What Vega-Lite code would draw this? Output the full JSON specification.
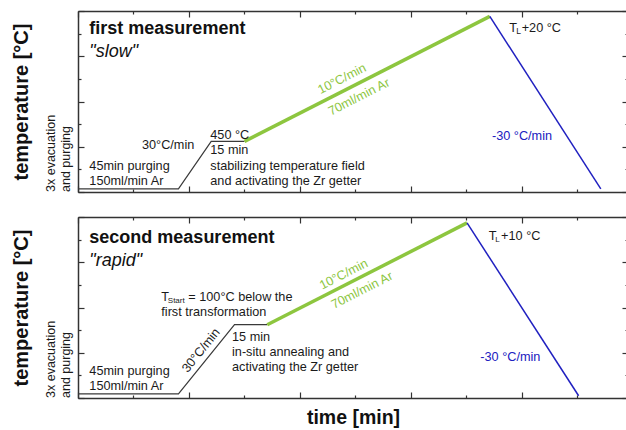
{
  "$schema": "https://vega.github.io/schema/vega-lite/v6.json",
  "padding": {"left": 11, "top": 9, "right": 0, "bottom": 0},
  "background": "white",
  "config": {
    "font": "Liberation Sans",
    "view": {"stroke": null},
    "axis": {"domainColor": "#333", "domainWidth": 1.5, "tickColor": "#333", "tickWidth": 1.2, "grid": false, "labels": false, "titleFont": "Liberation Sans", "titleFontSize": 20, "titleFontWeight": "bold", "titleColor": "#111"},
    "text": {"font": "Liberation Sans", "color": "#1a1a1a", "align": "left", "baseline": "alphabetic", "fontSize": 12.7}
  },
  "spacing": 22,
  "datasets": {
    "lines": [
      {"panel": "top", "seg": "black", "t": 0, "T": 0.07},
      {"panel": "top", "seg": "black", "t": 1.81, "T": 0.07},
      {"panel": "top", "seg": "black", "t": 2.40, "T": 1.12},
      {"panel": "top", "seg": "black", "t": 3.0, "T": 1.12},
      {"panel": "top", "seg": "green", "t": 3.0, "T": 1.12},
      {"panel": "top", "seg": "green", "t": 7.42, "T": 3.88},
      {"panel": "top", "seg": "blue", "t": 7.42, "T": 3.88},
      {"panel": "top", "seg": "blue", "t": 9.42, "T": 0.07},
      {"panel": "bottom", "seg": "black", "t": 0, "T": 0.09},
      {"panel": "bottom", "seg": "black", "t": 1.81, "T": 0.09},
      {"panel": "bottom", "seg": "black", "t": 2.82, "T": 1.62},
      {"panel": "bottom", "seg": "black", "t": 3.41, "T": 1.62},
      {"panel": "bottom", "seg": "green", "t": 3.41, "T": 1.62},
      {"panel": "bottom", "seg": "green", "t": 7.01, "T": 3.87},
      {"panel": "bottom", "seg": "blue", "t": 7.01, "T": 3.87},
      {"panel": "bottom", "seg": "blue", "t": 9.02, "T": 0.05}
    ],
    "texts": [
      {"panel": "top", "kind": "title", "x": 0.204, "y": 3.50, "label": "first measurement"},
      {"panel": "top", "kind": "italic", "x": 0.204, "y": 2.99, "label": "\"slow\""},
      {"panel": "top", "kind": "normal", "x": 1.153, "y": 0.958, "label": "30°C/min"},
      {"panel": "top", "kind": "normal", "x": 2.384, "y": 1.179, "label": "450 °C"},
      {"panel": "top", "kind": "normal", "x": 2.384, "y": 0.834, "label": "15 min"},
      {"panel": "top", "kind": "normal", "x": 2.384, "y": 0.493, "label": "stabilizing temperature field"},
      {"panel": "top", "kind": "normal", "x": 2.384, "y": 0.162, "label": "and activating the Zr getter"},
      {"panel": "top", "kind": "normal", "x": 0.204, "y": 0.493, "label": "45min purging"},
      {"panel": "top", "kind": "normal", "x": 0.204, "y": 0.162, "label": "150ml/min Ar"},
      {"panel": "top", "kind": "green", "x": 4.757, "y": 2.50, "label": "10°C/min"},
      {"panel": "top", "kind": "green", "x": 5.063, "y": 2.10, "label": "70ml/min Ar"},
      {"panel": "top", "kind": "T", "x": 7.771, "y": 3.54, "label": "T"},
      {"panel": "top", "kind": "sub", "x": 7.771, "y": 3.54, "label": "L"},
      {"panel": "top", "kind": "restL", "x": 7.771, "y": 3.54, "label": "+20 °C"},
      {"panel": "top", "kind": "blue", "x": 7.459, "y": 1.144, "label": "-30 °C/min"},
      {"panel": "top", "kind": "side", "x": -0.414, "y": 0, "label": "3x evacuation"},
      {"panel": "top", "kind": "side", "x": -0.146, "y": 0, "label": "and purging"},
      {"panel": "bottom", "kind": "title", "x": 0.204, "y": 3.425, "label": "second measurement"},
      {"panel": "bottom", "kind": "italic", "x": 0.204, "y": 2.91, "label": "\"rapid\""},
      {"panel": "bottom", "kind": "T", "x": 1.501, "y": 2.152, "label": "T"},
      {"panel": "bottom", "kind": "sub", "x": 1.501, "y": 2.152, "label": "Start"},
      {"panel": "bottom", "kind": "restS", "x": 1.501, "y": 2.152, "label": "= 100°C below the"},
      {"panel": "bottom", "kind": "normal", "x": 1.501, "y": 1.821, "label": "first transformation"},
      {"panel": "bottom", "kind": "rot", "x": 2.216, "y": 1.054, "label": "30°C/min"},
      {"panel": "bottom", "kind": "normal", "x": 2.775, "y": 1.253, "label": "15 min"},
      {"panel": "bottom", "kind": "normal", "x": 2.775, "y": 0.922, "label": "in-situ annealing and"},
      {"panel": "bottom", "kind": "normal", "x": 2.775, "y": 0.59, "label": "activating the Zr getter"},
      {"panel": "bottom", "kind": "normal", "x": 0.204, "y": 0.517, "label": "45min purging"},
      {"panel": "bottom", "kind": "normal", "x": 0.204, "y": 0.186, "label": "150ml/min Ar"},
      {"panel": "bottom", "kind": "green", "x": 4.787, "y": 2.734, "label": "10°C/min"},
      {"panel": "bottom", "kind": "green", "x": 5.117, "y": 2.38, "label": "70ml/min Ar"},
      {"panel": "bottom", "kind": "T", "x": 7.40, "y": 3.50, "label": "T"},
      {"panel": "bottom", "kind": "sub", "x": 7.40, "y": 3.50, "label": "L"},
      {"panel": "bottom", "kind": "restL", "x": 7.40, "y": 3.50, "label": "+10 °C"},
      {"panel": "bottom", "kind": "blue", "x": 7.249, "y": 0.811, "label": "-30 °C/min"},
      {"panel": "bottom", "kind": "side", "x": -0.414, "y": 0, "label": "3x evacuation"},
      {"panel": "bottom", "kind": "side", "x": -0.146, "y": 0, "label": "and purging"}
    ]
  },
  "vconcat": [
    {
      "width": 550, "height": 181,
      "resolve": {"axis": {"x": "independent", "y": "independent"}},
      "layer": [
        {"data": {"name": "lines"}, "transform": [{"filter": "datum.panel === 'top' && datum.seg === 'black'"}],
         "mark": {"type": "line", "color": "#3a3a3a", "strokeWidth": 1.2},
         "encoding": {
           "x": {"field": "t", "type": "quantitative", "scale": {"domain": [0, 9.91], "nice": false, "zero": false}, "axis": {"orient": "bottom", "values": [0, 2, 4, 6, 8], "tickSize": -6, "title": null}},
           "y": {"field": "T", "type": "quantitative", "scale": {"domain": [0, 4], "nice": false}, "axis": {"orient": "left", "values": [0, 1, 2, 3, 4], "tickSize": -6, "title": "temperature [°C]", "titlePadding": 46}}}},
        {"data": {"name": "lines"}, "transform": [{"filter": "datum.panel === 'top' && datum.seg === 'green'"}],
         "mark": {"type": "line", "color": "#8dc63f", "strokeWidth": 3.5},
         "encoding": {
           "x": {"field": "t", "type": "quantitative", "axis": {"orient": "top", "values": [0, 2, 4, 6, 8], "tickSize": -6, "title": null}},
           "y": {"field": "T", "type": "quantitative", "axis": {"orient": "right", "values": [0, 1, 2, 3, 4], "tickSize": -6, "domain": false, "title": null}}}},
        {"data": {"name": "lines"}, "transform": [{"filter": "datum.panel === 'top' && datum.seg === 'blue'"}],
         "mark": {"type": "line", "color": "#2020c0", "strokeWidth": 1.5},
         "encoding": {
           "x": {"field": "t", "type": "quantitative", "axis": {"orient": "bottom", "values": [1, 3, 5, 7, 9], "tickSize": -3, "domain": false, "title": null}},
           "y": {"field": "T", "type": "quantitative", "axis": {"orient": "left", "values": [0.5, 1.5, 2.5, 3.5], "tickSize": -3, "domain": false, "title": null}}}},
        {"data": {"name": "texts"}, "transform": [{"filter": "datum.panel === 'top' && datum.kind === 'normal'"}],
         "mark": {"type": "text"},
         "encoding": {
           "x": {"field": "x", "type": "quantitative", "axis": {"orient": "top", "values": [1, 3, 5, 7, 9], "tickSize": -3, "domain": false, "title": null}},
           "y": {"field": "y", "type": "quantitative", "axis": {"orient": "right", "values": [0.5, 1.5, 2.5, 3.5], "tickSize": -3, "domain": false, "title": null}},
           "text": {"field": "label"}}},
        {"data": {"name": "texts"}, "transform": [{"filter": "datum.panel === 'top' && datum.kind === 'title'"}],
         "mark": {"type": "text", "fontSize": 18, "fontWeight": "bold", "color": "#111"},
         "encoding": {"x": {"field": "x", "type": "quantitative", "axis": null}, "y": {"field": "y", "type": "quantitative", "axis": null}, "text": {"field": "label"}}},
        {"data": {"name": "texts"}, "transform": [{"filter": "datum.panel === 'top' && datum.kind === 'italic'"}],
         "mark": {"type": "text", "fontSize": 18, "fontStyle": "italic", "color": "#111"},
         "encoding": {"x": {"field": "x", "type": "quantitative", "axis": null}, "y": {"field": "y", "type": "quantitative", "axis": null}, "text": {"field": "label"}}},
        {"data": {"name": "texts"}, "transform": [{"filter": "datum.panel === 'top' && datum.kind === 'green'"}],
         "mark": {"type": "text", "color": "#8dc63f", "align": "center", "baseline": "middle", "angle": 333},
         "encoding": {"x": {"field": "x", "type": "quantitative", "axis": null}, "y": {"field": "y", "type": "quantitative", "axis": null}, "text": {"field": "label"}}},
        {"data": {"name": "texts"}, "transform": [{"filter": "datum.panel === 'top' && datum.kind === 'blue'"}],
         "mark": {"type": "text", "color": "#2020c0"},
         "encoding": {"x": {"field": "x", "type": "quantitative", "axis": null}, "y": {"field": "y", "type": "quantitative", "axis": null}, "text": {"field": "label"}}},
        {"data": {"name": "texts"}, "transform": [{"filter": "datum.panel === 'top' && datum.kind === 'side'"}],
         "mark": {"type": "text", "angle": 270, "fontSize": 12.5},
         "encoding": {"x": {"field": "x", "type": "quantitative", "axis": null}, "y": {"field": "y", "type": "quantitative", "axis": null}, "text": {"field": "label"}}},
        {"data": {"name": "texts"}, "transform": [{"filter": "datum.panel === 'top' && datum.kind === 'T'"}],
         "mark": {"type": "text"},
         "encoding": {"x": {"field": "x", "type": "quantitative", "axis": null}, "y": {"field": "y", "type": "quantitative", "axis": null}, "text": {"field": "label"}}},
        {"data": {"name": "texts"}, "transform": [{"filter": "datum.panel === 'top' && datum.kind === 'sub'"}],
         "mark": {"type": "text", "fontSize": 8.5, "dx": 7, "dy": 2.3},
         "encoding": {"x": {"field": "x", "type": "quantitative", "axis": null}, "y": {"field": "y", "type": "quantitative", "axis": null}, "text": {"field": "label"}}},
        {"data": {"name": "texts"}, "transform": [{"filter": "datum.panel === 'top' && datum.kind === 'restL'"}],
         "mark": {"type": "text", "dx": 12.4},
         "encoding": {"x": {"field": "x", "type": "quantitative", "axis": null}, "y": {"field": "y", "type": "quantitative", "axis": null}, "text": {"field": "label"}}}
      ]
    },
    {
      "width": 550, "height": 181,
      "resolve": {"axis": {"x": "independent", "y": "independent"}},
      "layer": [
        {"data": {"name": "lines"}, "transform": [{"filter": "datum.panel === 'bottom' && datum.seg === 'black'"}],
         "mark": {"type": "line", "color": "#3a3a3a", "strokeWidth": 1.2},
         "encoding": {
           "x": {"field": "t", "type": "quantitative", "scale": {"domain": [0, 9.91], "nice": false, "zero": false}, "axis": {"orient": "bottom", "values": [0, 2, 4, 6, 8], "tickSize": -6, "title": "time [min]", "titlePadding": 10, "titleFontSize": 19.5}},
           "y": {"field": "T", "type": "quantitative", "scale": {"domain": [0, 4], "nice": false}, "axis": {"orient": "left", "values": [0, 1, 2, 3, 4], "tickSize": -6, "title": "temperature [°C]", "titlePadding": 46}}}},
        {"data": {"name": "lines"}, "transform": [{"filter": "datum.panel === 'bottom' && datum.seg === 'green'"}],
         "mark": {"type": "line", "color": "#8dc63f", "strokeWidth": 3.5},
         "encoding": {
           "x": {"field": "t", "type": "quantitative", "axis": {"orient": "top", "values": [0, 2, 4, 6, 8], "tickSize": -6, "title": null}},
           "y": {"field": "T", "type": "quantitative", "axis": {"orient": "right", "values": [0, 1, 2, 3, 4], "tickSize": -6, "domain": false, "title": null}}}},
        {"data": {"name": "lines"}, "transform": [{"filter": "datum.panel === 'bottom' && datum.seg === 'blue'"}],
         "mark": {"type": "line", "color": "#2020c0", "strokeWidth": 1.5},
         "encoding": {
           "x": {"field": "t", "type": "quantitative", "axis": {"orient": "bottom", "values": [1, 3, 5, 7, 9], "tickSize": -3, "domain": false, "title": null}},
           "y": {"field": "T", "type": "quantitative", "axis": {"orient": "left", "values": [0.5, 1.5, 2.5, 3.5], "tickSize": -3, "domain": false, "title": null}}}},
        {"data": {"name": "texts"}, "transform": [{"filter": "datum.panel === 'bottom' && datum.kind === 'normal'"}],
         "mark": {"type": "text"},
         "encoding": {
           "x": {"field": "x", "type": "quantitative", "axis": {"orient": "top", "values": [1, 3, 5, 7, 9], "tickSize": -3, "domain": false, "title": null}},
           "y": {"field": "y", "type": "quantitative", "axis": {"orient": "right", "values": [0.5, 1.5, 2.5, 3.5], "tickSize": -3, "domain": false, "title": null}},
           "text": {"field": "label"}}},
        {"data": {"name": "texts"}, "transform": [{"filter": "datum.panel === 'bottom' && datum.kind === 'title'"}],
         "mark": {"type": "text", "fontSize": 18, "fontWeight": "bold", "color": "#111"},
         "encoding": {"x": {"field": "x", "type": "quantitative", "axis": null}, "y": {"field": "y", "type": "quantitative", "axis": null}, "text": {"field": "label"}}},
        {"data": {"name": "texts"}, "transform": [{"filter": "datum.panel === 'bottom' && datum.kind === 'italic'"}],
         "mark": {"type": "text", "fontSize": 18, "fontStyle": "italic", "color": "#111"},
         "encoding": {"x": {"field": "x", "type": "quantitative", "axis": null}, "y": {"field": "y", "type": "quantitative", "axis": null}, "text": {"field": "label"}}},
        {"data": {"name": "texts"}, "transform": [{"filter": "datum.panel === 'bottom' && datum.kind === 'green'"}],
         "mark": {"type": "text", "color": "#8dc63f", "align": "center", "baseline": "middle", "angle": 333},
         "encoding": {"x": {"field": "x", "type": "quantitative", "axis": null}, "y": {"field": "y", "type": "quantitative", "axis": null}, "text": {"field": "label"}}},
        {"data": {"name": "texts"}, "transform": [{"filter": "datum.panel === 'bottom' && datum.kind === 'rot'"}],
         "mark": {"type": "text", "align": "center", "baseline": "middle", "angle": 309},
         "encoding": {"x": {"field": "x", "type": "quantitative", "axis": null}, "y": {"field": "y", "type": "quantitative", "axis": null}, "text": {"field": "label"}}},
        {"data": {"name": "texts"}, "transform": [{"filter": "datum.panel === 'bottom' && datum.kind === 'blue'"}],
         "mark": {"type": "text", "color": "#2020c0"},
         "encoding": {"x": {"field": "x", "type": "quantitative", "axis": null}, "y": {"field": "y", "type": "quantitative", "axis": null}, "text": {"field": "label"}}},
        {"data": {"name": "texts"}, "transform": [{"filter": "datum.panel === 'bottom' && datum.kind === 'side'"}],
         "mark": {"type": "text", "angle": 270, "fontSize": 12.5},
         "encoding": {"x": {"field": "x", "type": "quantitative", "axis": null}, "y": {"field": "y", "type": "quantitative", "axis": null}, "text": {"field": "label"}}},
        {"data": {"name": "texts"}, "transform": [{"filter": "datum.panel === 'bottom' && datum.kind === 'T'"}],
         "mark": {"type": "text"},
         "encoding": {"x": {"field": "x", "type": "quantitative", "axis": null}, "y": {"field": "y", "type": "quantitative", "axis": null}, "text": {"field": "label"}}},
        {"data": {"name": "texts"}, "transform": [{"filter": "datum.panel === 'bottom' && datum.kind === 'sub'"}],
         "mark": {"type": "text", "fontSize": 8, "dx": 6.5, "dy": 2},
         "encoding": {"x": {"field": "x", "type": "quantitative", "axis": null}, "y": {"field": "y", "type": "quantitative", "axis": null}, "text": {"field": "label"}}},
        {"data": {"name": "texts"}, "transform": [{"filter": "datum.panel === 'bottom' && datum.kind === 'restL'"}],
         "mark": {"type": "text", "dx": 12.4},
         "encoding": {"x": {"field": "x", "type": "quantitative", "axis": null}, "y": {"field": "y", "type": "quantitative", "axis": null}, "text": {"field": "label"}}},
        {"data": {"name": "texts"}, "transform": [{"filter": "datum.panel === 'bottom' && datum.kind === 'restS'"}],
         "mark": {"type": "text", "dx": 27}, 
         "encoding": {"x": {"field": "x", "type": "quantitative", "axis": null}, "y": {"field": "y", "type": "quantitative", "axis": null}, "text": {"field": "label"}}}
      ]
    }
  ]
}
